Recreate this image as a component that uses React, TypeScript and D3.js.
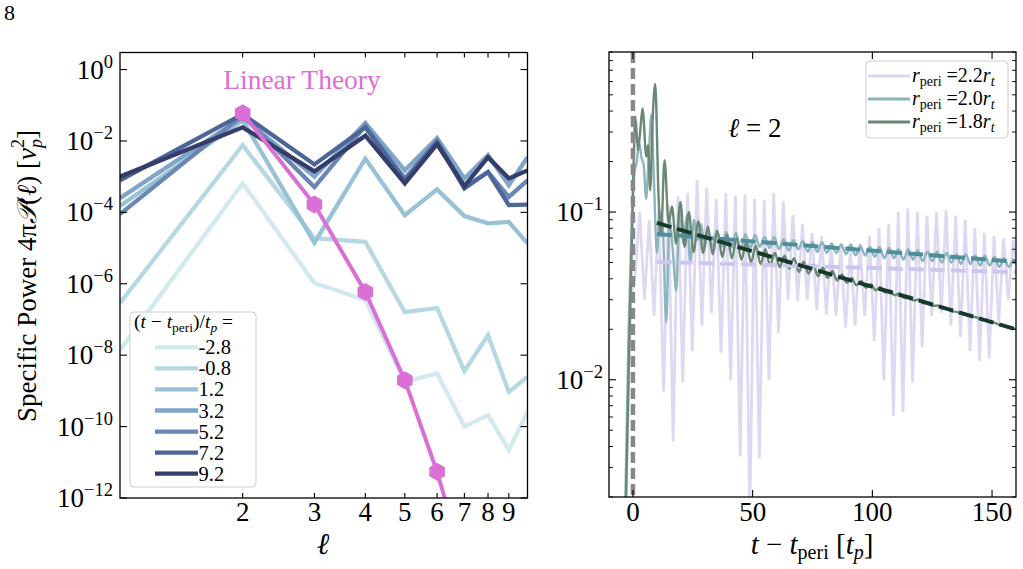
import React from "react";
import * as d3 from "d3";

const W = 1023;
const H = 569;
const FONT = "'Liberation Serif', 'DejaVu Serif', serif";

// ---------- left panel: power spectrum per multipole ----------
const ells = [1, 2, 3, 4, 5, 6, 7, 8, 9, 10];
const snapLabels = ["-2.8", "-0.8", "1.2", "3.2", "5.2", "7.2", "9.2"];
const snapColors = ["#d2e9ed", "#b6d8e2", "#98c1d6", "#7fa5c9", "#6986b4", "#4e6598", "#353e6b"];
const powerM28 = [1.4e-8, 6.5e-4, 1.05e-6, 3.5e-7, 1.8e-9, 3.1e-9, 1.0e-10, 2.1e-10, 2.2e-11, 2.6e-10];
const powerM08 = [2.9e-7, 7.6e-3, 1.9e-5, 1.5e-5, 1.6e-7, 2.1e-7, 3.6e-9, 3.6e-8, 9.3e-10, 2.5e-9];
const powerP12 = [1.5e-4, 3.8e-2, 1.4e-5, 3.2e-3, 8.3e-5, 4.4e-4, 7.9e-5, 4.9e-5, 5.4e-5, 1.35e-5];
const powerP32 = [2.5e-4, 4.6e-2, 1.0e-3, 3.2e-2, 1.5e-3, 1.2e-2, 8.9e-4, 4.0e-3, 5.8e-4, 3.5e-3];
const powerP52 = [8.9e-5, 5.2e-2, 5.1e-4, 2.7e-2, 8.9e-4, 1.0e-2, 5.0e-4, 1.35e-3, 2.7e-4, 7.9e-4];
const powerP72 = [7.9e-4, 5.6e-2, 2.2e-3, 2.4e-2, 7.6e-4, 9.3e-3, 4.7e-4, 1.35e-3, 1.6e-4, 1.65e-4];
const powerP92 = [1.0e-3, 2.4e-2, 1.4e-3, 1.4e-2, 6.5e-4, 8.1e-3, 5.4e-4, 3.5e-3, 8.9e-4, 1.5e-3];
const snapPowers = [powerM28, powerM08, powerP12, powerP32, powerP52, powerP72, powerP92];

const linearElls = [2, 3, 4, 5, 6, 7];
const linearPower = [0.06, 1.65e-4, 5.9e-7, 2.0e-9, 5.4e-12, 1.3e-14];

const leftYTicks = [1, 1e-2, 1e-4, 1e-6, 1e-8, 1e-10, 1e-12];
const leftYTickExp = ["0", "\u22122", "\u22124", "\u22126", "\u22128", "\u221210", "\u221212"];
const leftXTicks = [2, 3, 4, 5, 6, 7, 8, 9];

// ---------- right panel: l = 2 power vs time ----------
// r_peri = 2.2 r_t
const lavLeadT = [-3, -1];
const lavLeadV = [0.0015, 0.03];
const lavGridStart = 0.8;
const lavValues = [
  0.04, 0.10, 0.03, 0.09, 0.024, 0.105, 0.0085, 0.11, 0.0043, 0.124,
  0.0096, 0.13, 0.0148, 0.155, 0.021, 0.14, 0.025, 0.12, 0.0145, 0.13,
  0.0099, 0.125, 0.0035, 0.127, 0.0015, 0.12, 0.0034, 0.118, 0.0099, 0.13,
  0.019, 0.116, 0.030, 0.096, 0.0295, 0.085, 0.030, 0.075, 0.026, 0.072,
  0.0246, 0.065, 0.024, 0.062, 0.0205, 0.06, 0.021, 0.065, 0.024, 0.072,
  0.017, 0.08, 0.0099, 0.085, 0.0061, 0.10, 0.0064, 0.105, 0.0096, 0.10,
  0.0156, 0.095, 0.024, 0.10, 0.025, 0.103, 0.021, 0.095, 0.018, 0.09,
  0.0148, 0.08, 0.013, 0.075, 0.0133, 0.072, 0.022, 0.07, 0.03, 0.068,
  0.04,
];
// r_peri = 2.0 r_t
const tealLeadT = [-3.2, -1.8, -0.6, 0.6, 1.6, 2.6, 3.6, 4.5, 5.5, 6.5, 7.7, 8.8, 10, 11.2, 12.4, 13.9, 15.3, 16.6, 18.1, 19.5, 21, 22.5, 24, 25.5, 27, 28.5, 30];
const tealLeadV = [0.0018, 0.02, 0.08, 0.17, 0.2, 0.26, 0.21, 0.19, 0.12, 0.2, 0.38, 0.15, 0.057, 0.1, 0.085, 0.022, 0.09, 0.06, 0.034, 0.1, 0.065, 0.095, 0.05, 0.09, 0.068, 0.085, 0.06];
const tealGridStart = 31;
const tealValues = [
  0.079, 0.061, 0.078, 0.062, 0.076, 0.061, 0.075, 0.060, 0.074, 0.061,
  0.073, 0.062, 0.071, 0.061, 0.071, 0.060, 0.069, 0.059, 0.068, 0.060,
  0.067, 0.058, 0.066, 0.058, 0.066, 0.057, 0.065, 0.057, 0.064, 0.056,
  0.064, 0.055, 0.063, 0.055, 0.062, 0.054, 0.062, 0.053, 0.061, 0.053,
  0.060, 0.052, 0.060, 0.052, 0.059, 0.051, 0.058, 0.051, 0.058, 0.050,
  0.057, 0.050, 0.056, 0.049, 0.056, 0.049, 0.055, 0.048, 0.055, 0.048,
  0.054, 0.047, 0.053, 0.047, 0.052, 0.046,
];
// r_peri = 1.8 r_t
const greenLeadT = [-2.9, -1.6, -0.5, 0.3, 1.0, 2.1, 3.0, 4.0, 5.6, 6.3, 7.2, 8.2, 9.3, 10.7, 11.7, 13.2, 14.9, 16.3, 18.0, 19.8, 21.6, 23.3];
const greenLeadV = [0.0019, 0.015, 0.06, 0.2, 0.37, 0.234, 0.3, 0.415, 0.214, 0.25, 0.135, 0.35, 0.58, 0.124, 0.072, 0.204, 0.086, 0.108, 0.065, 0.115, 0.062, 0.1];
const greenGridStart = 25.3;
const greenValues = [
  0.058, 0.088, 0.057, 0.082, 0.056, 0.077, 0.054, 0.073, 0.053, 0.07,
  0.052, 0.066, 0.050, 0.063, 0.049, 0.06, 0.048, 0.057, 0.047, 0.055,
  0.046, 0.053, 0.044, 0.0505, 0.043, 0.0485, 0.0415, 0.0465, 0.0405, 0.0445,
  0.039, 0.0425, 0.0378, 0.0405, 0.0366, 0.0388, 0.0354, 0.0372, 0.0342, 0.0356,
  0.0331, 0.0341, 0.0319, 0.0327, 0.0308, 0.0314, 0.0297, 0.0301, 0.0286, 0.0289,
  0.0276, 0.0277, 0.0266, 0.0265, 0.0256, 0.0254, 0.0247, 0.0245, 0.0238, 0.0236,
  0.0229, 0.0227, 0.0221, 0.0218, 0.0212, 0.021, 0.0204, 0.0202, 0.0198,
];
const gridStep = 2;

// exponential-decay fits, evaluated at the two ends of the fit window
const fitTimes = [10, 160];
const lavFit = [0.0505, 0.0438];
const tealFit = [0.074, 0.0505];
const greenFit = [0.0861, 0.02];

const rperiLabels = ["2.2", "2.0", "1.8"];
const rperiColors = ["#d9d5f2", "#8db5be", "#6a8873"];
const fitColors = ["#cdc7ee", "#4e8d99", "#16392a"];

const rightXTicks = [0, 50, 100, 150];
const rightYMajor = [0.01, 0.1];
const rightYMajorExp = ["\u22122", "\u22121"];

type Pt = [number, number];

function series(leadT: number[], leadV: number[], start: number, vals: number[]): Pt[] {
  const pts: Pt[] = leadT.map((t, i) => [t, leadV[i]]);
  vals.forEach((v, i) => pts.push([start + i * gridStep, v]));
  return pts;
}

const L = { x0: 120, x1: 527.5, y0: 52.5, y1: 498 };
const R = { x0: 609, x1: 1016, y0: 52, y1: 497 };

function Pow10({ x, y, exp, anchor }: { x: number; y: number; exp: string; anchor: string }) {
  return (
    <text x={x} y={y} textAnchor={anchor as any} fontSize={27} fontFamily={FONT} fill="#000">
      10
      <tspan dy={-11} fontSize={18.5}>
        {exp}
      </tspan>
    </text>
  );
}

function hexagon(cx: number, cy: number, r: number) {
  const pts = d3.range(6).map((k) => {
    const a = -Math.PI / 2 + (k * Math.PI) / 3;
    return [cx + r * Math.cos(a), cy + r * Math.sin(a)];
  });
  return "M" + pts.map((p) => p.join(",")).join("L") + "Z";
}

export default function App() {
  // left scales
  const lx = d3.scaleLog().domain([1, 10]).range([L.x0, L.x1]);
  const ly = d3.scaleLog().domain([1e-12, 3]).range([L.y1, L.y0]);
  const lLine = d3
    .line<Pt>()
    .x((d) => lx(d[0]))
    .y((d) => ly(d[1]));

  // right scales
  const rx = d3.scaleLinear().domain([-10, 160]).range([R.x0, R.x1]);
  const ry = d3.scaleLog().domain([0.002, 0.9]).range([R.y1, R.y0]);
  const rLine = d3
    .line<Pt>()
    .x((d) => rx(d[0]))
    .y((d) => ry(d[1]));
  const rSmooth = d3
    .line<Pt>()
    .x((d) => rx(d[0]))
    .y((d) => ry(d[1]))
    .curve(d3.curveMonotoneX);

  const lav = series(lavLeadT, lavLeadV, lavGridStart, lavValues);
  const teal = series(tealLeadT, tealLeadV, tealGridStart, tealValues);
  const green = series(greenLeadT, greenLeadV, greenGridStart, greenValues);
  const fits = [lavFit, tealFit, greenFit];

  const rightMinor: number[] = [];
  [0.001, 0.01, 0.1].forEach((dec) => {
    for (let k = 2; k <= 9; k++) {
      const v = dec * k;
      if (v >= 0.002 && v <= 0.9) rightMinor.push(v);
    }
  });

  const tickLen = 7;
  const minorLen = 4;

  return (
    <svg
      width={W}
      height={H}
      style={{ position: "absolute", left: 0, top: 0, background: "#fff" }}
      fontFamily={FONT}
    >
      <defs>
        <clipPath id="clipL">
          <rect x={L.x0} y={L.y0} width={L.x1 - L.x0} height={L.y1 - L.y0} />
        </clipPath>
        <clipPath id="clipR">
          <rect x={R.x0} y={R.y0} width={R.x1 - R.x0} height={R.y1 - R.y0} />
        </clipPath>
      </defs>
      <rect x={0} y={0} width={W} height={H} fill="#fff" />
      <text x={4} y={20} fontSize={22} fontFamily={FONT}>
        8
      </text>

      {/* ---------------- left panel ---------------- */}
      <g clipPath="url(#clipL)">
        {snapPowers.map((p, i) => (
          <path
            key={i}
            d={lLine(ells.map((l, j) => [l, p[j]] as Pt)) || ""}
            fill="none"
            stroke={snapColors[i]}
            strokeWidth={4.3}
            strokeLinejoin="miter"
          />
        ))}
        <path
          d={lLine(linearElls.map((l, j) => [l, linearPower[j]] as Pt)) || ""}
          fill="none"
          stroke="#da70d6"
          strokeWidth={4}
        />
        {linearElls.map((l, j) => (
          <path key={j} d={hexagon(lx(l), ly(linearPower[j]), 9)} fill="#da70d6" />
        ))}
      </g>
      <text x={302} y={89} textAnchor="middle" fontSize={27.5} fill="#da70d6">
        Linear Theory
      </text>

      {/* left axes */}
      <rect x={L.x0} y={L.y0} width={L.x1 - L.x0} height={L.y1 - L.y0} fill="none" stroke="#000" strokeWidth={1.3} />
      {leftYTicks.map((v, i) => (
        <g key={i}>
          <line x1={L.x0} x2={L.x0 + tickLen} y1={ly(v)} y2={ly(v)} stroke="#000" strokeWidth={1.1} />
          <line x1={L.x1} x2={L.x1 - tickLen} y1={ly(v)} y2={ly(v)} stroke="#000" strokeWidth={1.1} />
          <Pow10 x={113} y={ly(v) + 9} exp={leftYTickExp[i]} anchor="end" />
        </g>
      ))}
      {leftXTicks.map((l) => (
        <g key={l}>
          <line x1={lx(l)} x2={lx(l)} y1={L.y1} y2={L.y1 - 5} stroke="#000" strokeWidth={1.1} />
          <line x1={lx(l)} x2={lx(l)} y1={L.y0} y2={L.y0 + 5} stroke="#000" strokeWidth={1.1} />
          <text x={lx(l)} y={521} textAnchor="middle" fontSize={27}>
            {l}
          </text>
        </g>
      ))}
      <text x={323} y={554} textAnchor="middle" fontSize={30} fontStyle="italic">
        ℓ
      </text>
      <text transform="translate(36,276) rotate(-90)" textAnchor="middle" fontSize={27}>
        Specific Power 4π<tspan fontStyle="italic">𝒫</tspan>(<tspan fontStyle="italic">ℓ</tspan>) [<tspan fontStyle="italic">v</tspan>
        <tspan dy={6} fontSize={18} fontStyle="italic">p</tspan>
        <tspan dx={-9} dy={-18} fontSize={18}>2</tspan>
        <tspan dy={12}>]</tspan>
      </text>

      {/* left legend */}
      <g>
        <rect x={130} y={312} width={126} height={175} rx={4} fill="#fff" fillOpacity={0.8} stroke="#cccccc" strokeWidth={1} />
        <text x={134} y={328} fontSize={19.5}>
          (<tspan fontStyle="italic">t</tspan> − <tspan fontStyle="italic">t</tspan>
          <tspan dy={4} fontSize={13.5}>peri</tspan>
          <tspan dy={-4}>)/</tspan>
          <tspan fontStyle="italic">t</tspan>
          <tspan dy={4} fontSize={13.5} fontStyle="italic">p</tspan>
          <tspan dy={-4}> =</tspan>
        </text>
        {snapLabels.map((lab, i) => {
          const yy = 347.3 + i * 21.07;
          return (
            <g key={lab}>
              <line x1={155} x2={198} y1={yy} y2={yy} stroke={snapColors[i]} strokeWidth={4.3} />
              <text x={198.5} y={yy + 7} fontSize={20.5}>
                {lab}
              </text>
            </g>
          );
        })}
      </g>

      {/* ---------------- right panel ---------------- */}
      <g clipPath="url(#clipR)">
        <path d={rLine(lav) || ""} fill="none" stroke={rperiColors[0]} strokeWidth={2.8} strokeOpacity={0.9} />
        <path d={rSmooth(teal) || ""} fill="none" stroke={rperiColors[1]} strokeWidth={2.4} />
        <path d={rSmooth(green) || ""} fill="none" stroke={rperiColors[2]} strokeWidth={2.4} />
        <line x1={rx(0)} x2={rx(0)} y1={R.y0} y2={R.y1} stroke="#888888" strokeWidth={4.5} strokeDasharray="11,5" />
        {fits.map((f, i) => (
          <path
            key={i}
            d={rLine(fitTimes.map((t, j) => [t, f[j]] as Pt)) || ""}
            fill="none"
            stroke={fitColors[i]}
            strokeWidth={4}
            strokeDasharray="15,6"
          />
        ))}
      </g>
      <text x={728} y={137} fontSize={27}>
        <tspan fontStyle="italic">ℓ</tspan> = 2
      </text>

      {/* right axes */}
      <rect x={R.x0} y={R.y0} width={R.x1 - R.x0} height={R.y1 - R.y0} fill="none" stroke="#000" strokeWidth={1.3} />
      {rightYMajor.map((v, i) => (
        <g key={v}>
          <line x1={R.x0} x2={R.x0 + tickLen} y1={ry(v)} y2={ry(v)} stroke="#000" strokeWidth={1.1} />
          <line x1={R.x1} x2={R.x1 - tickLen} y1={ry(v)} y2={ry(v)} stroke="#000" strokeWidth={1.1} />
          <Pow10 x={603} y={ry(v) + 9} exp={rightYMajorExp[i]} anchor="end" />
        </g>
      ))}
      {rightMinor.map((v) => (
        <g key={v}>
          <line x1={R.x0} x2={R.x0 + minorLen} y1={ry(v)} y2={ry(v)} stroke="#000" strokeWidth={0.9} />
          <line x1={R.x1} x2={R.x1 - minorLen} y1={ry(v)} y2={ry(v)} stroke="#000" strokeWidth={0.9} />
        </g>
      ))}
      {rightXTicks.map((t) => (
        <g key={t}>
          <line x1={rx(t)} x2={rx(t)} y1={R.y1} y2={R.y1 - tickLen} stroke="#000" strokeWidth={1.1} />
          <line x1={rx(t)} x2={rx(t)} y1={R.y0} y2={R.y0 + tickLen} stroke="#000" strokeWidth={1.1} />
          <text x={rx(t)} y={521} textAnchor="middle" fontSize={27}>
            {t}
          </text>
        </g>
      ))}
      <text x={812} y={554} textAnchor="middle" fontSize={29}>
        <tspan fontStyle="italic">t</tspan> − <tspan fontStyle="italic">t</tspan>
        <tspan dy={5} fontSize={20}>peri</tspan>
        <tspan dy={-5}> [</tspan>
        <tspan fontStyle="italic">t</tspan>
        <tspan dy={5} fontSize={20} fontStyle="italic">p</tspan>
        <tspan dy={-5}>]</tspan>
      </text>

      {/* right legend */}
      <g>
        <rect x={866} y={61} width={142} height={77} rx={4} fill="#fff" fillOpacity={0.8} stroke="#cccccc" strokeWidth={1} />
        {rperiLabels.map((lab, i) => {
          const yy = 76 + i * 23;
          return (
            <g key={lab}>
              <line x1={868} x2={910} y1={yy} y2={yy} stroke={rperiColors[i]} strokeWidth={2.8} />
              <text x={912} y={yy + 6} fontSize={20}>
                <tspan fontStyle="italic">r</tspan>
                <tspan dy={4} fontSize={14}>peri</tspan>
                <tspan dy={-4}> ={lab}</tspan>
                <tspan fontStyle="italic">r</tspan>
                <tspan dy={4} fontSize={14} fontStyle="italic">t</tspan>
              </text>
            </g>
          );
        })}
      </g>
    </svg>
  );
}
